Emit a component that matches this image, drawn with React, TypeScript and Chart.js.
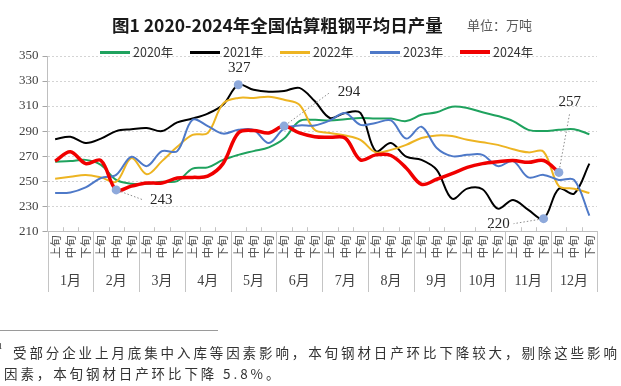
import React, { useEffect, useRef } from "react";
import { Chart, registerables } from "chart.js";

Chart.register(...registerables);

// ---------- data ----------
const periods = ["上旬", "中旬", "下旬"];
const months = ["1月", "2月", "3月", "4月", "5月", "6月", "7月", "8月", "9月", "10月", "11月", "12月"];
const categories = months.flatMap(() => periods);

const yMin = 210;
const yMax = 350;
const yStep = 20;

const seriesNames = ["2020年", "2021年", "2022年", "2023年", "2024年"];

const values2020 = [265.5, 266, 267, 263, 251, 248, 248, 249.5, 250, 260, 261, 267, 271, 274, 277, 284, 298, 299, 298.5, 299.5, 300.5, 300, 300, 298, 303, 305, 309.5, 308.5, 305, 302, 298, 291, 290, 291, 291.5, 287.5];
const values2021 = [283.5, 285.5, 280.5, 284, 290, 291.5, 292.5, 290, 297, 300, 304, 311, 327, 323, 321.5, 322, 324.5, 314, 300.5, 304.5, 304.5, 274, 280.5, 269.5, 267, 259, 236, 244, 243.5, 228, 235, 227, 220, 244, 240, 264];
const values2022 = [252, 253.5, 255, 253, 249.5, 268.5, 255.5, 266, 277.5, 287, 288.5, 312, 316.5, 316.5, 317.5, 315, 311, 291, 288.5, 286.5, 283, 273, 275, 279, 284.5, 286.5, 286, 283, 281, 279, 275.5, 273, 273.5, 246, 244, 240.5];
const values2023 = [240.5, 241, 245, 252.5, 255, 269.5, 262, 274, 274, 299, 294, 288, 291, 291, 280.5, 292, 294.5, 294.5, 298.5, 304.5, 295, 296.5, 298.5, 284, 293.5, 276.5, 270, 271, 271, 262, 266, 253, 255, 251, 251, 222.5];
const values2024 = [266, 273.5, 264, 266.5, 243, 246, 248.5, 248.5, 252.5, 253, 254, 264, 288.5, 290.5, 288.5, 294, 288.5, 285.5, 285, 284.5, 267, 271, 270.5, 260.5, 247.5, 251.5, 256, 261, 264, 265.5, 266.5, 265, 266.5, 257];

const allSeries = [values2020, values2021, values2022, values2023, values2024];

// highlighted points: [series index, data index]
const highlighted: [number, number][] = [
  [4, 4],
  [1, 12],
  [4, 15],
  [1, 32],
  [4, 33],
];

// ---------- styles ----------
const colors = ["#1FA25E", "#000000", "#EDB422", "#4E79C8", "#F00000"];
const widths = [2, 2, 2, 2, 3.5];
const drawOrder = [5, 4, 3, 2, 0];

// callout label offsets relative to the highlighted point (label centre, leader end)
const calloutStyle = [
  { dx: 45, dy: 10, lx: 27, ly: 10 },
  { dx: 1, dy: -17 },
  { dx: 65, dy: -34, lx: 45, ly: -33 },
  { dx: -45, dy: 5, lx: -30, ly: 5 },
  { dx: 11, dy: -70, lx: 11, ly: -60 },
];

const serif = '"Liberation Serif", "Noto Sans CJK SC", serif';
const sans = '"Noto Sans CJK SC", "Noto Sans", sans-serif';
const monthPad = 11;

const framePlugin = {
  id: "frame",
  afterDraw(chart: any) {
    const x = chart.scales.x;
    const x2 = chart.scales.x2;
    const ctx = chart.ctx;
    const n = categories.length;
    const first = x.getPixelForTick(0);
    const last = x.getPixelForTick(n - 1);
    const w = (last - first) / (n - 1);
    const bottom = x2.bottom - monthPad + 2;
    ctx.save();
    ctx.strokeStyle = "#c4c4c4";
    ctx.lineWidth = 1;
    for (let i = 0; i <= n; i++) {
      const px = Math.round(first - w / 2 + i * w) + 0.5;
      ctx.beginPath();
      if (i % 3 === 0) {
        ctx.moveTo(px, x.top);
        ctx.lineTo(px, bottom);
      } else {
        ctx.moveTo(px, x.top - 4);
        ctx.lineTo(px, x.top);
      }
      ctx.stroke();
    }
    ctx.restore();
  },
};

const calloutPlugin = {
  id: "callouts",
  afterDatasetsDraw(chart: any) {
    const ctx = chart.ctx;
    ctx.save();
    highlighted.forEach(([s, i], k) => {
      const el = chart.getDatasetMeta(s).data[i];
      if (!el) return;
      const st: any = calloutStyle[k];
      const x = el.x;
      const y = el.y;
      if (st.lx !== undefined) {
        const len = Math.hypot(st.lx, st.ly);
        const r = 5;
        ctx.beginPath();
        ctx.setLineDash([1.5, 2]);
        ctx.strokeStyle = "#8c8c8c";
        ctx.lineWidth = 1;
        ctx.moveTo(x + (st.lx / len) * r, y + (st.ly / len) * r);
        ctx.lineTo(x + st.lx, y + st.ly);
        ctx.stroke();
      }
      ctx.setLineDash([]);
      ctx.font = `15px ${serif}`;
      ctx.fillStyle = "#262626";
      ctx.textAlign = "center";
      ctx.textBaseline = "middle";
      ctx.fillText(String(Math.round(allSeries[s][i])), x + st.dx, y + st.dy);
    });
    ctx.restore();
  },
};

export default function App() {
  const ref = useRef<HTMLCanvasElement | null>(null);

  useEffect(() => {
    if (!ref.current) return;
    const datasets = allSeries.map((vals, s) => ({
      label: seriesNames[s],
      data: vals,
      borderColor: colors[s],
      backgroundColor: colors[s],
      borderWidth: widths[s],
      tension: 0.35,
      fill: false,
      order: drawOrder[s],
      xAxisID: "x",
      yAxisID: "y",
      pointRadius: (c: any) => (highlighted.some(([hs, hi]) => hs === s && hi === c.dataIndex) ? 4.5 : 0),
      pointBackgroundColor: "#8EA9DB",
      pointBorderWidth: 0,
      pointHoverRadius: 0,
    }));

    const chart = new Chart(ref.current, {
      type: "line",
      data: { labels: categories, datasets },
      options: {
        responsive: false,
        animation: false,
        events: [],
        layout: { padding: { left: 15, right: 24, top: 56, bottom: 85 } },
        plugins: {
          legend: { display: false },
          tooltip: { enabled: false },
          title: { display: false },
        },
        scales: {
          x: {
            type: "category",
            axis: "x",
            position: "bottom",
            offset: true,
            weight: 0,
            grid: { display: false, drawTicks: false },
            border: { display: true, color: "#bfbfbf", width: 1 },
            ticks: {
              autoSkip: false,
              maxRotation: 90,
              minRotation: 90,
              padding: 4,
              color: "#555555",
              font: { family: sans, size: 11.5 },
            },
          },
          x2: {
            type: "category",
            axis: "x",
            position: "bottom",
            labels: months,
            offset: true,
            weight: 1,
            grid: { display: false, drawTicks: false },
            border: { display: false },
            ticks: {
              autoSkip: false,
              maxRotation: 0,
              minRotation: 0,
              padding: monthPad,
              color: "#404040",
              font: { family: serif, size: 14 },
            },
          },
          y: {
            min: yMin,
            max: yMax,
            ticks: {
              stepSize: yStep,
              padding: 4,
              color: "#404040",
              font: { family: serif, size: 13 },
            },
            grid: { color: "#d4d4d4", tickColor: "#a6a6a6", tickLength: 5, lineWidth: 1 },
            border: { color: "#bfbfbf", width: 1, dash: [2, 2] },
          },
        },
      } as any,
      plugins: [framePlugin, calloutPlugin],
    });
    return () => chart.destroy();
  }, []);

  return (
    <div style={{ position: "absolute", left: 0, top: 0, width: 621, height: 386, background: "#fff", overflow: "hidden" }}>
      <canvas ref={ref} width={621} height={386} style={{ position: "absolute", left: 0, top: 0, display: "block" }} />
      <div
        style={{
          position: "absolute",
          left: 112,
          top: 14,
          fontFamily: sans,
          fontSize: 17.5,
          fontWeight: 700,
          lineHeight: "22px",
          color: "#1a1a1a",
          whiteSpace: "nowrap",
        }}
      >
        图1 2020-2024年全国估算粗钢平均日产量
      </div>
      <div
        style={{
          position: "absolute",
          left: 467,
          top: 16,
          fontFamily: sans,
          fontSize: 13,
          lineHeight: "18px",
          color: "#595959",
          whiteSpace: "nowrap",
        }}
      >
        单位：万吨
      </div>
      <div style={{ position: "absolute", left: 100, top: 44, height: 16, display: "flex" }}>
        {seriesNames.map((name, s) => (
          <div key={name} style={{ width: 90, display: "flex", alignItems: "center", height: 16 }}>
            <span style={{ display: "inline-block", width: 30, height: s === 4 ? 3.5 : 3, background: colors[s] }} />
            <span
              style={{
                marginLeft: 3,
                fontFamily: sans,
                fontSize: 12.5,
                lineHeight: "16px",
                color: "#333",
                whiteSpace: "nowrap",
              }}
            >
              {name}
            </span>
          </div>
        ))}
      </div>
      <div style={{ position: "absolute", left: 0, top: 330, width: 218, height: 1, background: "#9a9a9a" }} />
      <div style={{ position: "absolute", left: -2, top: 341, fontFamily: serif, fontSize: 9, color: "#333" }}>1</div>
      <div
        style={{
          position: "absolute",
          left: 13,
          top: 343,
          fontFamily: sans,
          fontSize: 13.5,
          letterSpacing: 2.9,
          lineHeight: "18px",
          color: "#333",
          whiteSpace: "nowrap",
        }}
      >
        受部分企业上月底集中入库等因素影响，本旬钢材日产环比下降较大，剔除这些影响
      </div>
      <div
        style={{
          position: "absolute",
          left: 4,
          top: 364,
          fontFamily: sans,
          fontSize: 13.5,
          letterSpacing: 2.9,
          lineHeight: "18px",
          color: "#333",
          whiteSpace: "nowrap",
        }}
      >
        因素，本旬钢材日产环比下降 5.8%。
      </div>
    </div>
  );
}
